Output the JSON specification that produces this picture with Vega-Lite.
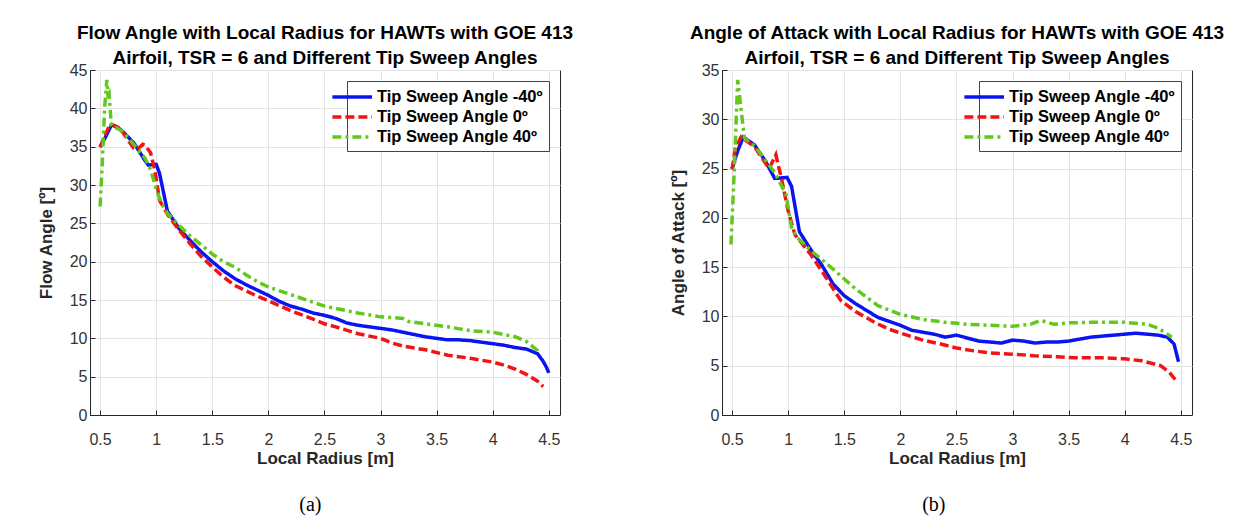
{
 "$schema": "https://vega.github.io/schema/vega-lite/v6.json",
 "background": "white",
 "padding": {"left": 36, "top": 23, "right": 5, "bottom": 5},
 "datasets": {
  "flow": [
   {"r":0.5,"v":35.0,"s":"Tip Sweep Angle -40º"},{"r":0.55,"v":36.3,"s":"Tip Sweep Angle -40º"},{"r":0.6,"v":37.8,"s":"Tip Sweep Angle -40º"},{"r":0.65,"v":37.6,"s":"Tip Sweep Angle -40º"},{"r":0.7,"v":37.0,"s":"Tip Sweep Angle -40º"},{"r":0.8,"v":35.5,"s":"Tip Sweep Angle -40º"},{"r":0.9,"v":33.2,"s":"Tip Sweep Angle -40º"},{"r":0.93,"v":32.6,"s":"Tip Sweep Angle -40º"},{"r":1.0,"v":32.7,"s":"Tip Sweep Angle -40º"},{"r":1.03,"v":31.5,"s":"Tip Sweep Angle -40º"},{"r":1.1,"v":26.6,"s":"Tip Sweep Angle -40º"},{"r":1.2,"v":24.4,"s":"Tip Sweep Angle -40º"},{"r":1.3,"v":22.8,"s":"Tip Sweep Angle -40º"},{"r":1.4,"v":21.3,"s":"Tip Sweep Angle -40º"},{"r":1.5,"v":20.0,"s":"Tip Sweep Angle -40º"},{"r":1.6,"v":18.8,"s":"Tip Sweep Angle -40º"},{"r":1.7,"v":17.8,"s":"Tip Sweep Angle -40º"},{"r":1.8,"v":17.0,"s":"Tip Sweep Angle -40º"},{"r":1.9,"v":16.3,"s":"Tip Sweep Angle -40º"},{"r":2.0,"v":15.6,"s":"Tip Sweep Angle -40º"},{"r":2.1,"v":14.8,"s":"Tip Sweep Angle -40º"},{"r":2.2,"v":14.2,"s":"Tip Sweep Angle -40º"},{"r":2.3,"v":13.8,"s":"Tip Sweep Angle -40º"},{"r":2.4,"v":13.3,"s":"Tip Sweep Angle -40º"},{"r":2.5,"v":13.0,"s":"Tip Sweep Angle -40º"},{"r":2.6,"v":12.6,"s":"Tip Sweep Angle -40º"},{"r":2.7,"v":12.0,"s":"Tip Sweep Angle -40º"},{"r":2.8,"v":11.7,"s":"Tip Sweep Angle -40º"},{"r":2.9,"v":11.5,"s":"Tip Sweep Angle -40º"},{"r":3.0,"v":11.3,"s":"Tip Sweep Angle -40º"},{"r":3.1,"v":11.1,"s":"Tip Sweep Angle -40º"},{"r":3.2,"v":10.8,"s":"Tip Sweep Angle -40º"},{"r":3.3,"v":10.5,"s":"Tip Sweep Angle -40º"},{"r":3.4,"v":10.2,"s":"Tip Sweep Angle -40º"},{"r":3.5,"v":10.0,"s":"Tip Sweep Angle -40º"},{"r":3.6,"v":9.8,"s":"Tip Sweep Angle -40º"},{"r":3.7,"v":9.8,"s":"Tip Sweep Angle -40º"},{"r":3.8,"v":9.7,"s":"Tip Sweep Angle -40º"},{"r":3.9,"v":9.5,"s":"Tip Sweep Angle -40º"},{"r":4.0,"v":9.3,"s":"Tip Sweep Angle -40º"},{"r":4.1,"v":9.1,"s":"Tip Sweep Angle -40º"},{"r":4.2,"v":8.8,"s":"Tip Sweep Angle -40º"},{"r":4.3,"v":8.6,"s":"Tip Sweep Angle -40º"},{"r":4.4,"v":8.0,"s":"Tip Sweep Angle -40º"},{"r":4.45,"v":7.0,"s":"Tip Sweep Angle -40º"},{"r":4.48,"v":6.2,"s":"Tip Sweep Angle -40º"},{"r":4.5,"v":5.5,"s":"Tip Sweep Angle -40º"},
   {"r":0.5,"v":34.9,"s":"Tip Sweep Angle 0º"},{"r":0.56,"v":37.0,"s":"Tip Sweep Angle 0º"},{"r":0.59,"v":38.0,"s":"Tip Sweep Angle 0º"},{"r":0.65,"v":37.6,"s":"Tip Sweep Angle 0º"},{"r":0.7,"v":36.9,"s":"Tip Sweep Angle 0º"},{"r":0.8,"v":34.8,"s":"Tip Sweep Angle 0º"},{"r":0.83,"v":34.6,"s":"Tip Sweep Angle 0º"},{"r":0.88,"v":35.3,"s":"Tip Sweep Angle 0º"},{"r":0.9,"v":35.2,"s":"Tip Sweep Angle 0º"},{"r":0.95,"v":34.2,"s":"Tip Sweep Angle 0º"},{"r":0.99,"v":31.8,"s":"Tip Sweep Angle 0º"},{"r":1.03,"v":28.0,"s":"Tip Sweep Angle 0º"},{"r":1.1,"v":26.2,"s":"Tip Sweep Angle 0º"},{"r":1.2,"v":24.2,"s":"Tip Sweep Angle 0º"},{"r":1.3,"v":22.4,"s":"Tip Sweep Angle 0º"},{"r":1.4,"v":20.7,"s":"Tip Sweep Angle 0º"},{"r":1.5,"v":19.3,"s":"Tip Sweep Angle 0º"},{"r":1.6,"v":18.0,"s":"Tip Sweep Angle 0º"},{"r":1.7,"v":16.9,"s":"Tip Sweep Angle 0º"},{"r":1.8,"v":16.2,"s":"Tip Sweep Angle 0º"},{"r":1.9,"v":15.5,"s":"Tip Sweep Angle 0º"},{"r":2.0,"v":14.9,"s":"Tip Sweep Angle 0º"},{"r":2.2,"v":13.6,"s":"Tip Sweep Angle 0º"},{"r":2.4,"v":12.5,"s":"Tip Sweep Angle 0º"},{"r":2.5,"v":11.9,"s":"Tip Sweep Angle 0º"},{"r":2.6,"v":11.5,"s":"Tip Sweep Angle 0º"},{"r":2.8,"v":10.6,"s":"Tip Sweep Angle 0º"},{"r":3.0,"v":10.0,"s":"Tip Sweep Angle 0º"},{"r":3.1,"v":9.4,"s":"Tip Sweep Angle 0º"},{"r":3.2,"v":9.0,"s":"Tip Sweep Angle 0º"},{"r":3.4,"v":8.5,"s":"Tip Sweep Angle 0º"},{"r":3.6,"v":7.8,"s":"Tip Sweep Angle 0º"},{"r":3.8,"v":7.4,"s":"Tip Sweep Angle 0º"},{"r":4.0,"v":6.9,"s":"Tip Sweep Angle 0º"},{"r":4.1,"v":6.5,"s":"Tip Sweep Angle 0º"},{"r":4.2,"v":6.0,"s":"Tip Sweep Angle 0º"},{"r":4.3,"v":5.3,"s":"Tip Sweep Angle 0º"},{"r":4.4,"v":4.4,"s":"Tip Sweep Angle 0º"},{"r":4.45,"v":3.7,"s":"Tip Sweep Angle 0º"},
   {"r":0.5,"v":27.2,"s":"Tip Sweep Angle 40º"},{"r":0.52,"v":33.0,"s":"Tip Sweep Angle 40º"},{"r":0.54,"v":40.0,"s":"Tip Sweep Angle 40º"},{"r":0.56,"v":43.7,"s":"Tip Sweep Angle 40º"},{"r":0.57,"v":41.8,"s":"Tip Sweep Angle 40º"},{"r":0.58,"v":42.0,"s":"Tip Sweep Angle 40º"},{"r":0.6,"v":37.8,"s":"Tip Sweep Angle 40º"},{"r":0.7,"v":37.0,"s":"Tip Sweep Angle 40º"},{"r":0.8,"v":35.3,"s":"Tip Sweep Angle 40º"},{"r":0.9,"v":33.5,"s":"Tip Sweep Angle 40º"},{"r":0.95,"v":32.0,"s":"Tip Sweep Angle 40º"},{"r":1.0,"v":29.5,"s":"Tip Sweep Angle 40º"},{"r":1.05,"v":27.5,"s":"Tip Sweep Angle 40º"},{"r":1.1,"v":26.3,"s":"Tip Sweep Angle 40º"},{"r":1.2,"v":24.8,"s":"Tip Sweep Angle 40º"},{"r":1.3,"v":23.4,"s":"Tip Sweep Angle 40º"},{"r":1.4,"v":22.2,"s":"Tip Sweep Angle 40º"},{"r":1.5,"v":21.0,"s":"Tip Sweep Angle 40º"},{"r":1.6,"v":20.0,"s":"Tip Sweep Angle 40º"},{"r":1.7,"v":19.3,"s":"Tip Sweep Angle 40º"},{"r":1.8,"v":18.3,"s":"Tip Sweep Angle 40º"},{"r":1.9,"v":17.4,"s":"Tip Sweep Angle 40º"},{"r":2.0,"v":16.7,"s":"Tip Sweep Angle 40º"},{"r":2.2,"v":15.7,"s":"Tip Sweep Angle 40º"},{"r":2.4,"v":14.7,"s":"Tip Sweep Angle 40º"},{"r":2.5,"v":14.2,"s":"Tip Sweep Angle 40º"},{"r":2.6,"v":13.9,"s":"Tip Sweep Angle 40º"},{"r":2.8,"v":13.3,"s":"Tip Sweep Angle 40º"},{"r":3.0,"v":12.8,"s":"Tip Sweep Angle 40º"},{"r":3.2,"v":12.6,"s":"Tip Sweep Angle 40º"},{"r":3.25,"v":12.2,"s":"Tip Sweep Angle 40º"},{"r":3.4,"v":11.9,"s":"Tip Sweep Angle 40º"},{"r":3.6,"v":11.5,"s":"Tip Sweep Angle 40º"},{"r":3.8,"v":11.0,"s":"Tip Sweep Angle 40º"},{"r":4.0,"v":10.8,"s":"Tip Sweep Angle 40º"},{"r":4.2,"v":10.2,"s":"Tip Sweep Angle 40º"},{"r":4.3,"v":9.6,"s":"Tip Sweep Angle 40º"},{"r":4.4,"v":8.4,"s":"Tip Sweep Angle 40º"},{"r":4.42,"v":8.0,"s":"Tip Sweep Angle 40º"}
  ],
  "aoa": [
   {"r":0.5,"v":25.0,"s":"Tip Sweep Angle -40º"},{"r":0.55,"v":26.8,"s":"Tip Sweep Angle -40º"},{"r":0.6,"v":28.2,"s":"Tip Sweep Angle -40º"},{"r":0.7,"v":27.4,"s":"Tip Sweep Angle -40º"},{"r":0.8,"v":25.7,"s":"Tip Sweep Angle -40º"},{"r":0.88,"v":24.0,"s":"Tip Sweep Angle -40º"},{"r":0.99,"v":24.1,"s":"Tip Sweep Angle -40º"},{"r":1.03,"v":23.2,"s":"Tip Sweep Angle -40º"},{"r":1.1,"v":18.6,"s":"Tip Sweep Angle -40º"},{"r":1.2,"v":16.8,"s":"Tip Sweep Angle -40º"},{"r":1.3,"v":15.2,"s":"Tip Sweep Angle -40º"},{"r":1.4,"v":13.3,"s":"Tip Sweep Angle -40º"},{"r":1.5,"v":12.1,"s":"Tip Sweep Angle -40º"},{"r":1.6,"v":11.3,"s":"Tip Sweep Angle -40º"},{"r":1.7,"v":10.6,"s":"Tip Sweep Angle -40º"},{"r":1.8,"v":9.9,"s":"Tip Sweep Angle -40º"},{"r":1.9,"v":9.5,"s":"Tip Sweep Angle -40º"},{"r":2.0,"v":9.1,"s":"Tip Sweep Angle -40º"},{"r":2.1,"v":8.6,"s":"Tip Sweep Angle -40º"},{"r":2.2,"v":8.4,"s":"Tip Sweep Angle -40º"},{"r":2.3,"v":8.2,"s":"Tip Sweep Angle -40º"},{"r":2.4,"v":7.9,"s":"Tip Sweep Angle -40º"},{"r":2.5,"v":8.1,"s":"Tip Sweep Angle -40º"},{"r":2.6,"v":7.8,"s":"Tip Sweep Angle -40º"},{"r":2.7,"v":7.5,"s":"Tip Sweep Angle -40º"},{"r":2.8,"v":7.4,"s":"Tip Sweep Angle -40º"},{"r":2.9,"v":7.3,"s":"Tip Sweep Angle -40º"},{"r":3.0,"v":7.6,"s":"Tip Sweep Angle -40º"},{"r":3.1,"v":7.5,"s":"Tip Sweep Angle -40º"},{"r":3.2,"v":7.3,"s":"Tip Sweep Angle -40º"},{"r":3.3,"v":7.4,"s":"Tip Sweep Angle -40º"},{"r":3.4,"v":7.4,"s":"Tip Sweep Angle -40º"},{"r":3.5,"v":7.5,"s":"Tip Sweep Angle -40º"},{"r":3.6,"v":7.7,"s":"Tip Sweep Angle -40º"},{"r":3.7,"v":7.9,"s":"Tip Sweep Angle -40º"},{"r":3.8,"v":8.0,"s":"Tip Sweep Angle -40º"},{"r":3.9,"v":8.1,"s":"Tip Sweep Angle -40º"},{"r":4.0,"v":8.2,"s":"Tip Sweep Angle -40º"},{"r":4.1,"v":8.3,"s":"Tip Sweep Angle -40º"},{"r":4.2,"v":8.2,"s":"Tip Sweep Angle -40º"},{"r":4.3,"v":8.1,"s":"Tip Sweep Angle -40º"},{"r":4.38,"v":7.9,"s":"Tip Sweep Angle -40º"},{"r":4.44,"v":7.2,"s":"Tip Sweep Angle -40º"},{"r":4.48,"v":5.4,"s":"Tip Sweep Angle -40º"},
   {"r":0.5,"v":24.9,"s":"Tip Sweep Angle 0º"},{"r":0.53,"v":27.1,"s":"Tip Sweep Angle 0º"},{"r":0.58,"v":28.2,"s":"Tip Sweep Angle 0º"},{"r":0.7,"v":27.2,"s":"Tip Sweep Angle 0º"},{"r":0.83,"v":25.0,"s":"Tip Sweep Angle 0º"},{"r":0.89,"v":26.4,"s":"Tip Sweep Angle 0º"},{"r":0.94,"v":24.0,"s":"Tip Sweep Angle 0º"},{"r":1.0,"v":20.7,"s":"Tip Sweep Angle 0º"},{"r":1.06,"v":18.3,"s":"Tip Sweep Angle 0º"},{"r":1.2,"v":16.3,"s":"Tip Sweep Angle 0º"},{"r":1.3,"v":14.6,"s":"Tip Sweep Angle 0º"},{"r":1.47,"v":11.6,"s":"Tip Sweep Angle 0º"},{"r":1.6,"v":10.5,"s":"Tip Sweep Angle 0º"},{"r":1.77,"v":9.4,"s":"Tip Sweep Angle 0º"},{"r":1.9,"v":8.7,"s":"Tip Sweep Angle 0º"},{"r":2.06,"v":8.1,"s":"Tip Sweep Angle 0º"},{"r":2.2,"v":7.6,"s":"Tip Sweep Angle 0º"},{"r":2.36,"v":7.2,"s":"Tip Sweep Angle 0º"},{"r":2.5,"v":6.8,"s":"Tip Sweep Angle 0º"},{"r":2.66,"v":6.5,"s":"Tip Sweep Angle 0º"},{"r":2.8,"v":6.3,"s":"Tip Sweep Angle 0º"},{"r":2.96,"v":6.2,"s":"Tip Sweep Angle 0º"},{"r":3.1,"v":6.1,"s":"Tip Sweep Angle 0º"},{"r":3.19,"v":6.0,"s":"Tip Sweep Angle 0º"},{"r":3.4,"v":5.9,"s":"Tip Sweep Angle 0º"},{"r":3.55,"v":5.8,"s":"Tip Sweep Angle 0º"},{"r":3.8,"v":5.8,"s":"Tip Sweep Angle 0º"},{"r":4.0,"v":5.7,"s":"Tip Sweep Angle 0º"},{"r":4.15,"v":5.5,"s":"Tip Sweep Angle 0º"},{"r":4.32,"v":5.0,"s":"Tip Sweep Angle 0º"},{"r":4.4,"v":4.3,"s":"Tip Sweep Angle 0º"},{"r":4.45,"v":3.6,"s":"Tip Sweep Angle 0º"},
   {"r":0.49,"v":17.3,"s":"Tip Sweep Angle 40º"},{"r":0.52,"v":25.0,"s":"Tip Sweep Angle 40º"},{"r":0.55,"v":34.0,"s":"Tip Sweep Angle 40º"},{"r":0.565,"v":32.5,"s":"Tip Sweep Angle 40º"},{"r":0.58,"v":31.0,"s":"Tip Sweep Angle 40º"},{"r":0.61,"v":28.1,"s":"Tip Sweep Angle 40º"},{"r":0.7,"v":27.3,"s":"Tip Sweep Angle 40º"},{"r":0.8,"v":25.8,"s":"Tip Sweep Angle 40º"},{"r":0.88,"v":24.6,"s":"Tip Sweep Angle 40º"},{"r":0.98,"v":22.4,"s":"Tip Sweep Angle 40º"},{"r":1.03,"v":19.0,"s":"Tip Sweep Angle 40º"},{"r":1.08,"v":18.0,"s":"Tip Sweep Angle 40º"},{"r":1.2,"v":16.7,"s":"Tip Sweep Angle 40º"},{"r":1.35,"v":15.3,"s":"Tip Sweep Angle 40º"},{"r":1.5,"v":13.8,"s":"Tip Sweep Angle 40º"},{"r":1.6,"v":12.8,"s":"Tip Sweep Angle 40º"},{"r":1.8,"v":11.1,"s":"Tip Sweep Angle 40º"},{"r":2.0,"v":10.2,"s":"Tip Sweep Angle 40º"},{"r":2.2,"v":9.7,"s":"Tip Sweep Angle 40º"},{"r":2.4,"v":9.4,"s":"Tip Sweep Angle 40º"},{"r":2.6,"v":9.2,"s":"Tip Sweep Angle 40º"},{"r":2.8,"v":9.1,"s":"Tip Sweep Angle 40º"},{"r":3.0,"v":9.0,"s":"Tip Sweep Angle 40º"},{"r":3.16,"v":9.2,"s":"Tip Sweep Angle 40º"},{"r":3.25,"v":9.6,"s":"Tip Sweep Angle 40º"},{"r":3.37,"v":9.2,"s":"Tip Sweep Angle 40º"},{"r":3.5,"v":9.35,"s":"Tip Sweep Angle 40º"},{"r":3.7,"v":9.4,"s":"Tip Sweep Angle 40º"},{"r":4.0,"v":9.4,"s":"Tip Sweep Angle 40º"},{"r":4.2,"v":9.2,"s":"Tip Sweep Angle 40º"},{"r":4.3,"v":8.8,"s":"Tip Sweep Angle 40º"},{"r":4.42,"v":7.9,"s":"Tip Sweep Angle 40º"}
  ]
 },
 "spacing": 94,
 "hconcat": [
  {
   "title": {"text": "(a)", "orient": "bottom", "anchor": "middle", "font": "Liberation Serif", "fontSize": 20, "fontWeight": "normal", "color": "black", "offset": 28, "dx": 5},
   "resolve": {"legend": {"color": "independent", "strokeDash": "independent"}},
   "vconcat": [
    {
     "width": 470, "height": 345,
     "title": {"text": ["Flow Angle with Local Radius for HAWTs with GOE 413", "Airfoil, TSR = 6 and Different Tip Sweep Angles"]},
     "data": {"name": "flow"},
     "mark": {"type": "line", "strokeWidth": 3.5, "clip": true},
     "encoding": {
      "x": {"field": "r", "type": "quantitative", "scale": {"domain": [0.41, 4.6], "nice": false, "zero": false}, "axis": {"values": [0.5,1,1.5,2,2.5,3,3.5,4,4.5], "format": "~g", "title": "Local Radius [m]"}},
      "y": {"field": "v", "type": "quantitative", "scale": {"domain": [0, 45], "nice": false}, "axis": {"values": [0,5,10,15,20,25,30,35,40,45], "title": "Flow Angle [º]"}},
      "color": {"field": "s", "type": "nominal", "scale": {"domain": ["Tip Sweep Angle -40º","Tip Sweep Angle 0º","Tip Sweep Angle 40º"], "range": ["#0a14f0","#f01414","#62c81e"]}, "legend": {"title": null, "orient": "top-right", "offset": 11}},
      "strokeDash": {"field": "s", "type": "nominal", "scale": {"domain": ["Tip Sweep Angle -40º","Tip Sweep Angle 0º","Tip Sweep Angle 40º"], "range": [[1,0],[9,4],[9,4,3,4]]}, "legend": {"title": null, "orient": "top-right", "offset": 11}}
     }
    }
   ]
  },
  {
   "title": {"text": "(b)", "orient": "bottom", "anchor": "middle", "font": "Liberation Serif", "fontSize": 20, "fontWeight": "normal", "color": "black", "offset": 28, "dx": -13},
   "resolve": {"legend": {"color": "independent", "strokeDash": "independent"}},
   "vconcat": [
    {
     "width": 470, "height": 345,
     "title": {"text": ["Angle of Attack with Local Radius for HAWTs with GOE 413", "Airfoil, TSR = 6 and Different Tip Sweep Angles"]},
     "data": {"name": "aoa"},
     "mark": {"type": "line", "strokeWidth": 3.5, "clip": true},
     "encoding": {
      "x": {"field": "r", "type": "quantitative", "scale": {"domain": [0.41, 4.6], "nice": false, "zero": false}, "axis": {"values": [0.5,1,1.5,2,2.5,3,3.5,4,4.5], "format": "~g", "title": "Local Radius [m]"}},
      "y": {"field": "v", "type": "quantitative", "scale": {"domain": [0, 35], "nice": false}, "axis": {"values": [0,5,10,15,20,25,30,35], "title": "Angle of Attack [º]"}},
      "color": {"field": "s", "type": "nominal", "scale": {"domain": ["Tip Sweep Angle -40º","Tip Sweep Angle 0º","Tip Sweep Angle 40º"], "range": ["#0a14f0","#f01414","#62c81e"]}, "legend": {"title": null, "orient": "top-right", "offset": 11}},
      "strokeDash": {"field": "s", "type": "nominal", "scale": {"domain": ["Tip Sweep Angle -40º","Tip Sweep Angle 0º","Tip Sweep Angle 40º"], "range": [[1,0],[9,4],[9,4,3,4]]}, "legend": {"title": null, "orient": "top-right", "offset": 11}}
     }
    }
   ]
  }
 ],
 "resolve": {"scale": {"color": "independent", "strokeDash": "independent"}, "legend": {"color": "independent", "strokeDash": "independent"}},
 "config": {
  "font": "Liberation Sans",
  "view": {"stroke": "#262626", "strokeWidth": 1},
  "axis": {"labelFont": "Liberation Sans", "labelFontSize": 16, "labelColor": "#333333", "titleFont": "Liberation Sans", "titleFontSize": 17, "titleFontWeight": "bold", "titleColor": "#262626", "gridColor": "#e3e3e3", "domainColor": "#262626", "tickColor": "#262626", "tickSize": -5, "labelPadding": 8, "titlePadding": 14},
  "axisX": {"labelPadding": 21, "titlePadding": 3},
  "legend": {"fillColor": "white", "strokeColor": "#444444", "padding": 5, "symbolType": "M-3.4,0H1", "symbolSize": 324, "symbolStrokeWidth": 3.5, "labelFont": "Liberation Sans", "labelFontSize": 16.5, "labelFontWeight": "bold", "labelColor": "black", "labelOffset": 3, "rowPadding": 0, "labelLimit": 400},
  "title": {"font": "Liberation Sans", "fontSize": 19, "fontWeight": "bold", "color": "black", "lineHeight": 25, "offset": -6}
 }
}
